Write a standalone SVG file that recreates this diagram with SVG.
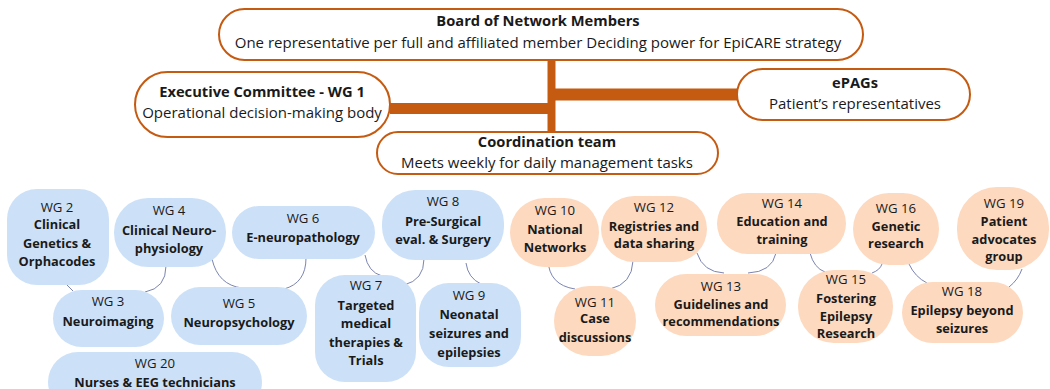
<svg xmlns="http://www.w3.org/2000/svg" width="1050" height="389" viewBox="0 0 1050 389">
<style>
.top{fill:#fff;stroke:#C55A11;stroke-width:2}
.b{fill:#CCE1F8}
.p{fill:#FDD9BF}
text{font-family:"Open Sans","Liberation Sans",sans-serif;fill:#1a1a1a;text-anchor:middle}
.t1{font-size:14.7px;font-weight:700}
.t2{font-size:15px}
.w{font-size:13.2px}
.n{font-size:12.8px;font-weight:700}
.thick{stroke:#C55A11;fill:none}
.c{stroke:#7B84B0;stroke-width:1;fill:none}
</style>
<g id="connectors">
<line class="thick" x1="551.5" y1="60" x2="551.5" y2="132" stroke-width="8"/>
<line class="thick" x1="390" y1="108.5" x2="551.5" y2="108.5" stroke-width="11"/>
<line class="thick" x1="551.5" y1="94.5" x2="737" y2="94.5" stroke-width="12"/>
<path class="c" d="M67,285 L73,291"/>
<path class="c" d="M166,266 Q166,288 145,292"/>
<path class="c" d="M212,259 Q218,285 242,288"/>
<path class="c" d="M306,258 Q306,283 284,289"/>
<path class="c" d="M365,255 Q368,272 382,276"/>
<path class="c" d="M424,259 Q424,280 404,285"/>
<path class="c" d="M466,263 Q468,278 481,284"/>
<path class="c" d="M548,260 Q549,285 575,289"/>
<path class="c" d="M633,261 Q632,284 610,289"/>
<path class="c" d="M697,253 Q703,272 724,273"/>
<path class="c" d="M776,253 Q772,272 748,273"/>
<path class="c" d="M810,253 Q814,268 825,272"/>
<path class="c" d="M882,264 Q880,270 872,273"/>
<path class="c" d="M909,264 Q915,277 927,283"/>
<path class="c" d="M1022,269 Q1018,280 1009,287"/>
</g>
<g id="board">
<rect class="top" x="219" y="9" width="644" height="51" rx="25.5"/>
<text class="t1" x="538" y="26">Board of Network Members</text>
<text class="t2" x="538" y="48">One representative per full and affiliated member Deciding power for EpiCARE strategy</text>
</g>
<g id="executive">
<rect class="top" x="135" y="72" width="255" height="65" rx="32.5"/>
<text class="t1" x="262" y="97">Executive Committee - WG 1</text>
<text class="t2" x="262" y="118">Operational decision-making body</text>
</g>
<g id="epags">
<rect class="top" x="737" y="69" width="233" height="51" rx="25.5"/>
<text class="t1" x="855" y="88">ePAGs</text>
<text class="t2" x="855" y="109">Patient’s representatives</text>
</g>
<g id="coordination">
<rect class="top" x="377" y="132" width="341" height="42" rx="21"/>
<text class="t1" x="547" y="147">Coordination team</text>
<text class="t2" x="547" y="168">Meets weekly for daily management tasks</text>
</g>
<g id="wg2"><rect class="b" x="7" y="189" width="102" height="96" rx="30"/>
<text class="w" x="57" y="212">WG 2</text><text class="n" x="57" y="229">Clinical</text><text class="n" x="57" y="248">Genetics &amp;</text><text class="n" x="57" y="266">Orphacodes</text></g>
<g id="wg4"><rect class="b" x="114" y="198" width="112" height="69" rx="34"/>
<text class="w" x="169" y="215">WG 4</text><text class="n" x="169" y="235">Clinical Neuro-</text><text class="n" x="169" y="253">physiology</text></g>
<g id="wg6"><rect class="b" x="232" y="206" width="143" height="53" rx="26.5"/>
<text class="w" x="303" y="223">WG 6</text><text class="n" x="303" y="242">E-neuropathology</text></g>
<g id="wg8"><rect class="b" x="382" y="190" width="122" height="70" rx="33"/>
<text class="w" x="443" y="206">WG 8</text><text class="n" x="443" y="226">Pre-Surgical</text><text class="n" x="443" y="244">eval. &amp; Surgery</text></g>
<g id="wg3"><rect class="b" x="53" y="290" width="111" height="57" rx="28.5"/>
<text class="w" x="108" y="306">WG 3</text><text class="n" x="108" y="326">Neuroimaging</text></g>
<g id="wg5"><rect class="b" x="171" y="287" width="136" height="58" rx="29"/>
<text class="w" x="239" y="308">WG 5</text><text class="n" x="239" y="327">Neuropsychology</text></g>
<g id="wg7"><rect class="b" x="315" y="275" width="101" height="107" rx="30"/>
<text class="w" x="366" y="290">WG 7</text><text class="n" x="366" y="310">Targeted</text><text class="n" x="366" y="328">medical</text><text class="n" x="366" y="347">therapies &amp;</text><text class="n" x="366" y="365">Trials</text></g>
<g id="wg9"><rect class="b" x="419" y="283" width="102" height="84" rx="30"/>
<text class="w" x="469" y="300">WG 9</text><text class="n" x="469" y="319">Neonatal</text><text class="n" x="469" y="338">seizures and</text><text class="n" x="469" y="357">epilepsies</text></g>
<g id="wg20"><rect class="b" x="48" y="352" width="214" height="60" rx="30"/>
<text class="w" x="155" y="368">WG 20</text><text class="n" x="155" y="387">Nurses &amp; EEG technicians</text></g>
<g id="wg10"><rect class="p" x="510" y="198" width="89" height="69" rx="34.5"/>
<text class="w" x="555" y="215">WG 10</text><text class="n" x="555" y="234">National</text><text class="n" x="555" y="252">Networks</text></g>
<g id="wg12"><rect class="p" x="601" y="196" width="106" height="66" rx="33"/>
<text class="w" x="654" y="212">WG 12</text><text class="n" x="654" y="231">Registries and</text><text class="n" x="654" y="248">data sharing</text></g>
<g id="wg11"><rect class="p" x="554" y="286" width="82" height="70" rx="35"/>
<text class="w" x="595" y="307">WG 11</text><text class="n" x="595" y="323">Case</text><text class="n" x="595" y="342">discussions</text></g>
<g id="wg13"><rect class="p" x="655" y="274" width="131" height="62" rx="31"/>
<text class="w" x="721" y="291">WG 13</text><text class="n" x="721" y="309">Guidelines and</text><text class="n" x="721" y="326">recommendations</text></g>
<g id="wg14"><rect class="p" x="717" y="193" width="129" height="61" rx="30.5"/>
<text class="w" x="782" y="208">WG 14</text><text class="n" x="782" y="226">Education and</text><text class="n" x="782" y="244">training</text></g>
<g id="wg16"><rect class="p" x="853" y="193" width="86" height="72" rx="36"/>
<text class="w" x="896" y="213">WG 16</text><text class="n" x="896" y="231">Genetic</text><text class="n" x="896" y="248">research</text></g>
<g id="wg19"><rect class="p" x="957" y="187" width="92" height="83" rx="40"/>
<text class="w" x="1004" y="208">WG 19</text><text class="n" x="1004" y="226">Patient</text><text class="n" x="1004" y="244">advocates</text><text class="n" x="1004" y="261">group</text></g>
<g id="wg15"><rect class="p" x="798" y="270" width="95" height="73" rx="36"/>
<text class="w" x="846" y="284">WG 15</text><text class="n" x="846" y="303">Fostering</text><text class="n" x="846" y="321">Epilepsy</text><text class="n" x="846" y="338">Research</text></g>
<g id="wg18"><rect class="p" x="902" y="282" width="121" height="61" rx="30.5"/>
<text class="w" x="962" y="296">WG 18</text><text class="n" x="962" y="315">Epilepsy beyond</text><text class="n" x="962" y="333">seizures</text></g>
</svg>
